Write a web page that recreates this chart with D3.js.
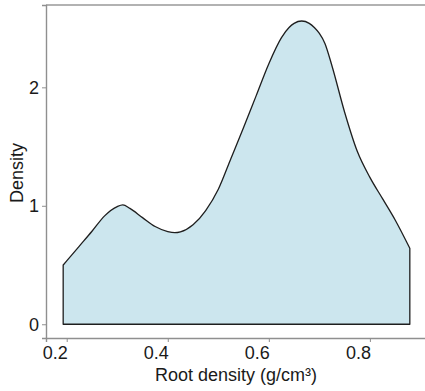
<!DOCTYPE html>
<html>
<head>
<meta charset="utf-8">
<script src="https://cdn.jsdelivr.net/npm/d3@7"></script>
<style>
  body { margin: 0; background: #fff; }
  svg text { font-family: "Liberation Sans", Arial, sans-serif; fill: #1a1a1a; }
</style>
</head>
<body>
<svg id="chart" width="425" height="391"></svg>
<script>
// density estimate (root density, g/cm3)
var xs = [0.193, 0.20, 0.225, 0.25, 0.275, 0.30, 0.311, 0.325, 0.35, 0.375,
          0.40, 0.414, 0.425, 0.45, 0.475, 0.50, 0.525, 0.55, 0.575, 0.60,
          0.625, 0.64, 0.65, 0.665, 0.68, 0.69, 0.70, 0.711, 0.725, 0.75,
          0.775, 0.80, 0.825, 0.85, 0.879];
var dens = [0.50, 0.535, 0.66, 0.785, 0.915, 0.993, 1.007, 0.978, 0.90, 0.825,
            0.782, 0.773, 0.78, 0.84, 0.96, 1.14, 1.40, 1.66, 1.93, 2.20,
            2.42, 2.505, 2.54, 2.56, 2.54, 2.505, 2.455, 2.371, 2.18, 1.79,
            1.46, 1.24, 1.06, 0.88, 0.641];
var xTicks = [0.2, 0.4, 0.6, 0.8];
var yTicks = [0, 1, 2];

var data = xs.map(function(d, i) { return {x: d, y: dens[i]}; });

var svg = d3.select("#chart");
// note: "top" is reserved on window, so use other names
var padL = 46, padR = 427, padT = 5, padB = 338;

var x = d3.scaleLinear()
    .domain([0.159, 0.913])
    .range([padL, padR]);

var y = d3.scaleLinear()
    .domain([-0.116, 2.695])
    .range([padB, padT]);

// density area, outlined all round like geom_density
var area = d3.area()
    .x(function(d) { return x(d.x); })
    .y0(y(0))
    .y1(function(d) { return y(d.y); })
    .curve(d3.curveMonotoneX);

svg.append("path")
    .datum(data)
    .attr("d", area)
    .style("fill", "#cce6ee")
    .style("stroke", "#1e1e1e")
    .style("stroke-width", 1.3)
    .style("stroke-linejoin", "round");

// top border of panel
svg.append("line")
    .attr("x1", padL).attr("x2", padR)
    .attr("y1", padT).attr("y2", padT)
    .style("stroke", "#666")
    .style("stroke-width", 1.2);

// X axis
var gx = svg.append("g")
    .attr("transform", "translate(0," + padB + ")")
    .call(d3.axisBottom(x).tickValues(xTicks).tickSize(4).tickPadding(4)
          .tickFormat(d3.format(".1f")));
// labels in the source sit a little left of their ticks
gx.selectAll(".tick text").attr("dx", -12);

// Y axis
var gy = svg.append("g")
    .attr("transform", "translate(" + padL + ",0)")
    .call(d3.axisLeft(y).tickValues(yTicks).tickSize(4).tickPadding(3)
          .tickFormat(d3.format("d")));

[gx, gy].forEach(function(g) {
  g.select(".domain").style("stroke", "#8f8f8f").style("stroke-width", 1.4);
  g.selectAll(".tick line").style("stroke", "#8f8f8f").style("stroke-width", 1);
  g.selectAll(".tick text").style("font-size", "18px").style("fill", "#1a1a1a");
});

svg.append("text")
    .attr("x", 236)
    .attr("y", 381)
    .attr("text-anchor", "middle")
    .style("font-size", "18px")
    .text("Root density (g/cm³)");

svg.append("text")
    .attr("transform", "translate(23,173) rotate(-90)")
    .attr("text-anchor", "middle")
    .style("font-size", "18px")
    .text("Density");
</script>
</body>
</html>
